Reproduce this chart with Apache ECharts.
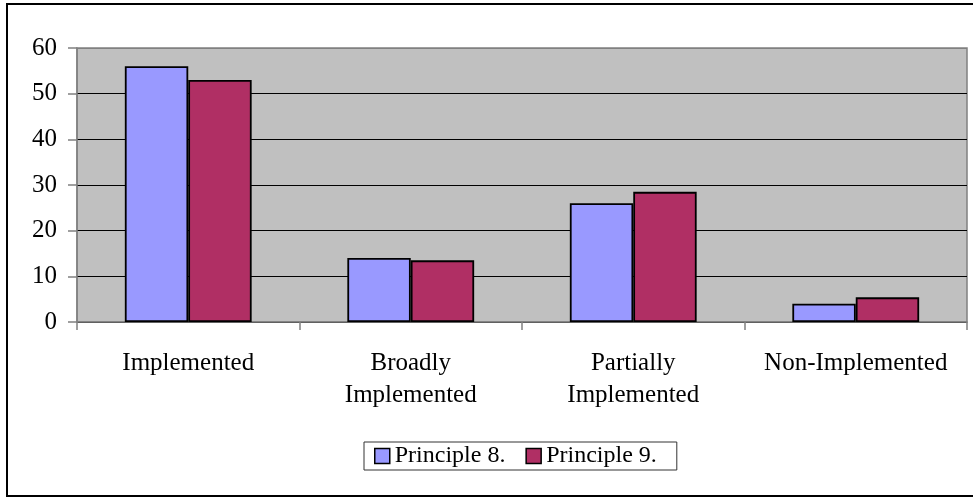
<!DOCTYPE html>
<html>
<head>
<meta charset="utf-8">
<script src="https://cdn.jsdelivr.net/npm/echarts@6/dist/echarts.min.js"></script>
<style>
  html, body { margin: 0; padding: 0; background: #fff; }
  #chart { width: 973px; height: 497px; }
</style>
</head>
<body>
<div id="chart"></div>
<script>
// Implementation status categories
const categories = ['Implemented', 'Broadly\nImplemented', 'Partially\nImplemented', 'Non-Implemented'];
// Percentages per principle
const principle8 = [56, 14, 26, 4];
const principle9 = [53, 13.5, 28.5, 5.4];
const seriesNames = ['Principle 8.', 'Principle 9.'];
// Value-axis range and step
const yMin = 0, yMax = 60, yStep = 10;

const FONT = '"Liberation Serif", "Times New Roman", serif';

const chart = echarts.init(document.getElementById('chart'));

const barStyle = (color) => ({
  color: color,
  borderColor: '#000',
  borderWidth: 1.8
});

chart.setOption({
  animation: false,
  backgroundColor: '#fff',
  textStyle: { fontFamily: FONT, color: '#000' },
  graphic: [{
    type: 'rect',
    shape: { x: 7, y: 4, width: 980, height: 492 },
    style: { fill: 'none', stroke: '#000', lineWidth: 2 },
    silent: true
  }],
  grid: {
    left: 77, top: 48, right: 6, bottom: 175,
    show: true,
    backgroundColor: '#c0c0c0',
    borderColor: '#808080',
    borderWidth: 1.5
  },
  legend: {
    left: 364, top: 442,
    data: seriesNames,
    icon: 'rect',
    itemWidth: 15, itemHeight: 15,
    itemGap: 20,
    padding: [2, 20, 2, 10],
    borderColor: '#333', borderWidth: 1,
    backgroundColor: '#fff',
    itemStyle: { borderColor: '#000', borderWidth: 1.5 },
    textStyle: { fontFamily: FONT, fontSize: 24, color: '#000' }
  },
  xAxis: {
    type: 'category',
    data: categories,
    axisLine: { lineStyle: { color: '#808080', width: 1.5 } },
    axisTick: { show: true, length: 8, lineStyle: { color: '#808080', width: 1.5 } },
    axisLabel: {
      interval: 0, margin: 25,
      fontFamily: FONT, fontSize: 25, color: '#000', lineHeight: 32
    }
  },
  yAxis: {
    type: 'value',
    min: yMin, max: yMax, interval: yStep,
    axisLine: { show: true, lineStyle: { color: '#808080', width: 1.5 } },
    axisTick: { show: true, length: 9, lineStyle: { color: '#808080', width: 1.5 } },
    axisLabel: { margin: 20, fontFamily: FONT, fontSize: 25, color: '#000' },
    splitLine: {
      show: true,
      lineStyle: { color: ['#000', '#000', '#000', '#000', '#000', '#000', '#808080'], width: 1 }
    }
  },
  series: [
    {
      name: seriesNames[0], type: 'bar', data: principle8,
      barGap: '0%', barCategoryGap: '43%',
      itemStyle: barStyle('#9999ff')
    },
    {
      name: seriesNames[1], type: 'bar', data: principle9,
      barGap: '0%', barCategoryGap: '43%',
      itemStyle: barStyle('#b02f64')
    }
  ]
});
</script>
</body>
</html>
